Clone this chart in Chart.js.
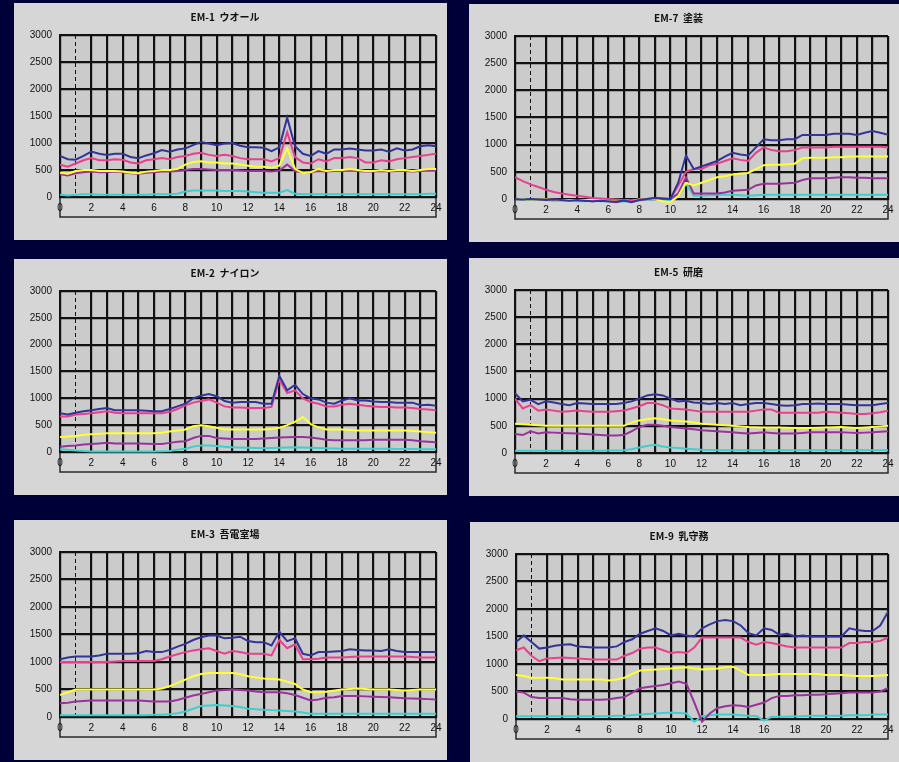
<!DOCTYPE html>
<html>
<head>
<meta charset="utf-8">
<script src="https://cdn.jsdelivr.net/npm/chart.js@4.4.1/dist/chart.umd.min.js"></script>
<style>
body { margin:0; background:#000038; width:899px; height:762px; overflow:hidden; position:relative; }
.panel { position:absolute; background:#d6d6d6; }
.panel canvas { display:block; }
</style>
</head>
<body>
<div class="panel" style="left:14px;top:3px;width:433px;height:237px"><canvas id="em1" width="433" height="237"></canvas></div>
<div class="panel" style="left:469px;top:4px;width:430px;height:238px"><canvas id="em7" width="430" height="238"></canvas></div>
<div class="panel" style="left:14px;top:259px;width:433px;height:236px"><canvas id="em2" width="433" height="236"></canvas></div>
<div class="panel" style="left:469px;top:258px;width:430px;height:238px"><canvas id="em5" width="430" height="238"></canvas></div>
<div class="panel" style="left:14px;top:520px;width:433px;height:240px"><canvas id="em3" width="433" height="240"></canvas></div>
<div class="panel" style="left:470px;top:522px;width:429px;height:240px"><canvas id="em9" width="429" height="240"></canvas></div>
<script>
// time of day, half-hour steps
var hours = [0,0.5,1,1.5,2,2.5,3,3.5,4,4.5,5,5.5,6,6.5,7,7.5,8,8.5,9,9.5,10,10.5,11,11.5,12,12.5,13,13.5,14,14.5,15,15.5,16,16.5,17,17.5,18,18.5,19,19.5,20,20.5,21,21.5,22,22.5,23,23.5,24];
var yTicks = [0,500,1000,1500,2000,2500,3000];

// EM-1 ウオール
var em1Blue   = [760,700,690,760,840,800,780,800,800,740, 720,770,810,870,840,880,900,960,1020,990, 960,990,1000,950,920,920,910,850,920,1470, 940,800,760,850,800,880,880,900,880,860, 860,880,840,900,860,880,940,960,940];
var em1Pink   = [600,560,620,680,720,680,680,700,690,640, 620,680,700,720,700,740,760,800,820,780, 760,780,760,720,700,700,700,660,720,1200, 740,640,620,700,660,720,720,740,720,640, 640,680,660,700,720,740,760,780,800];
var em1Yellow = [450,430,480,500,500,480,480,480,470,450, 440,470,480,500,500,520,600,650,660,640, 640,620,620,600,580,560,560,540,580,900, 520,440,460,520,480,500,500,520,500,480, 480,500,480,500,500,480,500,520,520];
var em1Purple = [420,400,440,460,470,460,460,470,460,440, 430,450,460,470,470,480,500,520,520,510, 500,500,500,490,480,480,480,470,490,600, 480,450,460,480,470,480,480,490,480,470, 470,480,470,480,480,470,480,490,490];
var em1Cyan   = [40,30,40,50,50,40,40,40,40,40, 40,40,50,50,50,60,100,120,120,120, 120,110,110,110,100,90,80,80,80,130, 60,50,50,50,50,50,50,50,50,50, 50,50,50,50,50,50,50,60,60];

// EM-7 塗装
var em7Blue   = [0,-10,0,-10,-20,-10,-20,-30,-20,-30, -40,-30,-40,-50,-30,-60,-20,0,20,10, 0,300,800,550,600,650,700,780,850,820, 800,950,1100,1080,1080,1100,1100,1180,1180,1180, 1180,1200,1200,1200,1180,1220,1250,1220,1180];
var em7Pink   = [400,330,270,220,170,130,100,80,60,40, 20,10,0,-10,-20,-30,-20,0,20,10, 0,250,500,550,550,620,650,700,750,720, 700,850,950,900,880,880,900,950,950,950, 950,960,960,960,960,960,960,960,950];
var em7Yellow = [0,0,-10,-10,-10,-20,-20,-20,-20,-20, -10,-20,-20,-30,-20,-30,-10,0,0,-40, -60,50,300,250,300,350,400,420,450,470, 480,550,620,630,630,640,650,750,760,760, 760,770,770,780,780,780,780,780,780];
var em7Purple = [0,0,0,-10,-10,-10,-20,-20,-20,-30, -40,-30,-40,-60,-30,-40,-10,0,10,0, 0,100,400,100,100,100,100,120,150,160, 170,250,280,280,280,290,300,350,380,380, 380,390,400,400,390,390,380,380,380];
var em7Cyan   = [0,-10,-10,-20,-20,-30,-30,-30,-40,-40, -30,-40,-40,-50,-40,-50,-30,-10,0,-10, -20,50,280,60,60,70,80,80,80,70, 60,70,80,80,80,80,80,80,80,80, 80,80,80,80,80,80,80,80,80];

// EM-2 ナイロン
var em2Blue   = [720,700,730,760,780,800,820,780,780,780, 780,770,760,760,800,850,900,1000,1050,1080, 1040,950,920,930,930,930,900,900,1420,1150, 1250,1080,1000,980,920,900,960,1000,960,960, 940,930,930,920,920,920,870,880,860];
var em2Pink   = [660,660,700,710,720,740,760,730,720,720, 720,720,720,720,750,800,870,920,950,980, 920,850,830,830,820,820,820,840,1350,1100, 1150,1000,930,900,850,850,880,900,880,860, 850,840,840,830,830,820,800,790,780];
var em2Yellow = [280,290,300,320,330,340,350,350,350,350, 350,350,350,360,380,400,420,480,500,480, 450,420,420,420,420,420,420,430,450,500, 560,650,520,460,420,420,420,410,400,400, 400,400,400,400,400,390,380,370,360];
var em2Purple = [100,110,120,140,150,160,170,160,160,160, 160,155,150,150,170,190,200,260,300,300, 260,250,240,240,240,240,250,260,270,275, 280,280,270,250,230,220,220,220,220,220, 230,230,230,230,230,220,200,190,180];
var em2Cyan   = [50,40,30,20,10,10,10,10,10,10, 10,10,10,15,20,40,60,100,120,120, 110,100,90,85,80,75,70,75,80,85, 90,85,80,75,70,65,60,60,60,60, 60,60,60,55,55,55,50,50,50];

// EM-5 研磨
var em5Blue   = [1100,950,980,900,950,930,900,880,920,910, 900,900,900,900,920,950,1000,1060,1080,1060, 1000,950,960,930,920,900,920,900,920,880, 900,920,920,900,880,870,880,900,900,910, 900,900,900,890,880,880,880,900,920];
var em5Pink   = [1000,820,880,780,800,780,760,770,780,770, 760,760,760,770,780,820,860,920,920,880, 820,810,800,780,760,760,760,760,760,760, 760,780,800,800,740,740,740,740,740,740, 760,750,740,730,720,720,730,750,780];
var em5Yellow = [540,530,520,510,500,500,500,500,500,500, 500,500,500,500,500,560,600,620,640,620, 600,590,580,560,540,530,520,510,500,490, 480,475,470,470,470,465,460,460,460,465, 470,475,480,470,460,470,480,490,500];
var em5Purple = [350,330,400,360,380,375,370,365,360,350, 340,330,320,320,330,400,480,520,520,500, 480,465,450,435,420,410,400,390,380,370, 360,370,380,370,360,360,360,370,380,380, 380,380,380,375,370,375,380,390,400];
var em5Cyan   = [40,40,40,40,40,40,40,40,40,40, 40,40,45,45,50,70,100,130,150,120, 100,90,80,70,60,55,50,50,50,50, 50,50,50,50,50,50,50,50,50,50, 50,50,50,50,50,50,50,50,50];

// EM-3 吾電室場
var em3Blue   = [1050,1080,1100,1100,1100,1120,1150,1150,1150,1150, 1160,1200,1180,1180,1220,1280,1330,1400,1450,1480, 1480,1430,1440,1460,1380,1360,1360,1300,1550,1380, 1430,1150,1120,1180,1180,1190,1200,1230,1220,1210, 1210,1200,1230,1200,1180,1180,1180,1180,1180];
var em3Pink   = [1000,1000,1000,1000,1000,1000,1000,1010,1020,1020, 1020,1020,1020,1050,1100,1140,1180,1210,1230,1250, 1200,1150,1200,1180,1150,1150,1150,1120,1400,1250, 1320,1050,1050,1060,1080,1080,1080,1090,1100,1100, 1100,1100,1100,1100,1100,1090,1080,1080,1080];
var em3Yellow = [400,450,500,500,500,500,500,500,500,500, 500,500,500,520,560,620,680,740,780,800, 800,800,800,780,740,720,700,690,680,640, 600,500,450,450,460,480,500,510,520,510, 500,500,500,490,480,490,500,500,500];
var em3Purple = [250,260,280,290,300,300,300,300,300,300, 300,290,280,280,280,310,350,390,420,450, 480,490,500,490,480,465,450,450,450,430, 400,350,300,320,350,360,380,380,380,375, 370,365,360,350,340,335,330,325,320];
var em3Cyan   = [30,30,30,30,30,30,30,30,30,30, 30,30,40,40,50,70,100,150,200,210, 220,210,200,180,150,140,130,125,120,110, 100,80,60,60,60,60,60,60,60,60, 60,60,60,60,60,60,60,60,60];

// EM-9 乳守務
var em9Blue   = [1400,1520,1400,1280,1300,1330,1350,1360,1320,1310, 1300,1300,1300,1320,1400,1450,1550,1600,1650,1600, 1520,1550,1520,1500,1650,1720,1780,1800,1780,1700, 1560,1520,1650,1620,1530,1550,1500,1520,1500,1500, 1500,1500,1500,1650,1620,1600,1600,1700,1950];
var em9Pink   = [1250,1300,1150,1050,1100,1110,1120,1110,1100,1090, 1080,1080,1080,1080,1150,1200,1280,1300,1300,1250, 1200,1220,1200,1300,1480,1480,1480,1480,1480,1480, 1400,1350,1400,1380,1350,1320,1300,1300,1300,1300, 1300,1300,1300,1380,1380,1400,1400,1420,1480];
var em9Yellow = [800,780,750,750,750,740,720,720,720,720, 720,720,700,720,750,820,880,890,900,910, 920,930,940,920,900,910,920,940,950,880, 800,800,800,810,820,820,820,820,820,820, 800,800,800,790,780,780,780,790,800];
var em9Purple = [500,480,400,380,380,380,380,360,350,350, 350,350,360,380,400,480,560,580,600,620, 650,680,640,300,-50,100,200,230,250,240, 220,260,300,380,420,420,430,430,440,440, 450,460,470,480,480,480,480,500,560];
var em9Cyan   = [50,50,50,50,50,50,50,50,50,50, 50,50,50,60,60,70,80,90,100,110, 120,110,100,-50,50,70,80,80,80,70, 60,55,-30,40,40,40,50,50,60,60, 60,60,60,70,70,70,80,80,80];

// plot background and the framed box under the x axis
var plotBg = {
    id: 'plotBg',
    beforeDraw: function(chart) {
        var a = chart.chartArea, c = chart.ctx;
        c.save();
        c.fillStyle = '#cbcbcb';
        c.fillRect(a.left, a.top, a.right - a.left, a.bottom - a.top);
        c.strokeStyle = '#2a2a2a';
        c.lineWidth = 1.5;
        c.strokeRect(a.left, a.bottom, a.right - a.left, 20);
        c.restore();
    }
};

function pts(vals) {
    return hours.map(function(h, i) { return { x: h, y: vals[i] }; });
}

function line(label, vals, color) {
    return {
        label: label,
        data: pts(vals),
        borderColor: color,
        backgroundColor: color,
        borderWidth: 2,
        pointRadius: 0,
        tension: 0,
        fill: false,
        clip: { left: 0, top: 0, right: 0, bottom: 10 }
    };
}

function makeChart(id, title, blue, pink, yellow, purple, cyan) {
    var ctx = document.getElementById(id).getContext('2d');
    return new Chart(ctx, {
        type: 'line',
        data: {
            datasets: [
                line('blue', blue, '#333399'),
                line('pink', pink, '#e8408f'),
                line('yellow', yellow, '#ffff33'),
                line('purple', purple, '#993399'),
                line('cyan', cyan, '#3ccfcf')
            ]
        },
        options: {
            responsive: false,
            animation: false,
            layout: { padding: { left: 0, right: 11, top: 0, bottom: 0 } },
            plugins: {
                legend: { display: false },
                tooltip: { enabled: false },
                title: {
                    display: true,
                    text: title,
                    color: '#111',
                    font: { family: '"Noto Sans CJK JP", "DejaVu Sans", sans-serif', size: 10, weight: 'bold' },
                    padding: { top: 8, bottom: 12 }
                }
            },
            scales: {
                x: {
                    type: 'linear',
                    min: 0,
                    max: 24,
                    afterFit: function(s) { s.height = 43; },
                    ticks: {
                        stepSize: 1,
                        autoSkip: false,
                        maxRotation: 0,
                        padding: 5,
                        color: '#111',
                        font: { family: '"Liberation Sans", Arial, sans-serif', size: 10 },
                        callback: function(v) { return v % 2 === 0 ? String(v) : ''; }
                    },
                    grid: {
                        color: '#111',
                        drawTicks: false,
                        lineWidth: function(c) { return c.tick && c.tick.value === 1 ? 1 : 2.2; }
                    },
                    border: {
                        color: '#111',
                        width: 2,
                        dash: function(c) { return c.tick && c.tick.value === 1 ? [4, 3] : []; }
                    }
                },
                y: {
                    min: 0,
                    max: 3000,
                    afterFit: function(s) { s.width = 46; },
                    afterBuildTicks: function(s) { s.ticks = yTicks.map(function(v) { return { value: v }; }); },
                    ticks: {
                        padding: 8,
                        color: '#111',
                        font: { family: '"Liberation Sans", Arial, sans-serif', size: 10 },
                        callback: function(v) { return String(v); }
                    },
                    grid: { color: '#111', lineWidth: 2.2, drawTicks: false },
                    border: { color: '#111', width: 2 }
                }
            }
        },
        plugins: [plotBg]
    });
}

makeChart('em1', 'EM-1  ウオール', em1Blue, em1Pink, em1Yellow, em1Purple, em1Cyan);
makeChart('em7', 'EM-7  塗装', em7Blue, em7Pink, em7Yellow, em7Purple, em7Cyan);
makeChart('em2', 'EM-2  ナイロン', em2Blue, em2Pink, em2Yellow, em2Purple, em2Cyan);
makeChart('em5', 'EM-5  研磨', em5Blue, em5Pink, em5Yellow, em5Purple, em5Cyan);
makeChart('em3', 'EM-3  吾電室場', em3Blue, em3Pink, em3Yellow, em3Purple, em3Cyan);
makeChart('em9', 'EM-9  乳守務', em9Blue, em9Pink, em9Yellow, em9Purple, em9Cyan);
</script>
</body>
</html>
